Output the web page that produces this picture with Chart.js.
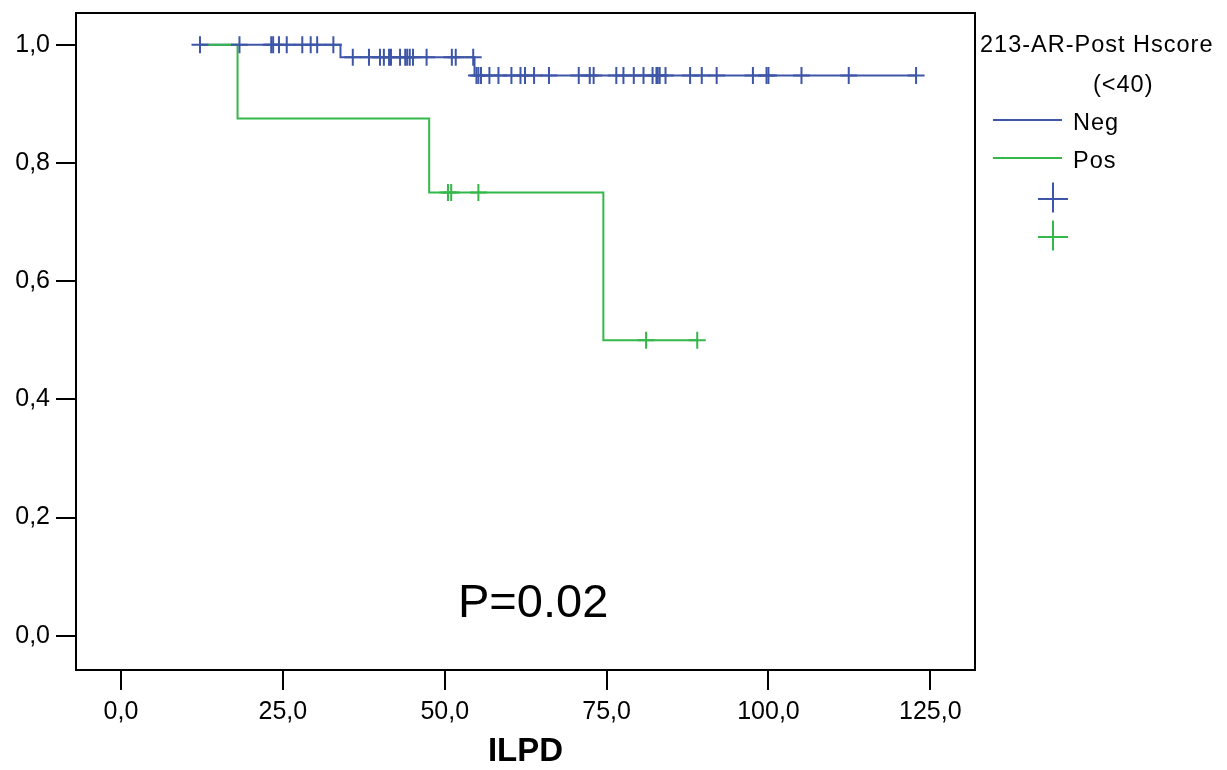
<!DOCTYPE html>
<html><head><meta charset="utf-8">
<script src="https://cdn.jsdelivr.net/npm/chart.js@4.4.1/dist/chart.umd.min.js"></script>
<style>html,body{margin:0;padding:0;background:#fff;}canvas{display:block;}</style>
</head><body>
<canvas id="c" width="1227" height="770"></canvas>
<script>
// ---- data ----
const groupNames = ['Neg', 'Pos'];
const legendTitle = ['213-AR-Post Hscore', '(<40)'];
const xAxisTitle = 'ILPD';
const pValueText = 'P=0.02';
const xTickValues = [0, 25, 50, 75, 100, 125];
const xTickLabels = ['0,0', '25,0', '50,0', '75,0', '100,0', '125,0'];
const yTickValues = [0, 0.2, 0.4, 0.6, 0.8, 1.0];
const yTickLabels = ['0,0', '0,2', '0,4', '0,6', '0,8', '1,0'];

const negStartTime = 12.2;
const negEventTimes = [33.9, 54.6];
const negEventSurvival = [0.979, 0.948];
const negCensorTimes = [12.2, 18.3, 23.2, 23.5, 24.4, 25.6, 28.0, 29.3, 30.3, 32.8,
  35.8, 38.3, 40.0, 40.6, 41.4, 41.7, 43.1, 43.9, 44.2, 44.6, 45.1, 47.2, 51.1, 51.7, 54.4,
  54.9, 55.2, 55.6, 56.9, 58.3, 60.3, 61.7, 62.4, 63.8, 66.1, 70.7, 72.4, 73.0, 76.5, 77.6,
  79.2, 80.7, 82.1, 82.7, 82.9, 83.2, 84.1, 87.9, 89.7, 92.0, 97.6, 99.7, 100.0, 105.1, 112.4, 122.8];

const posStartTime = 12.2;
const posEventTimes = [18.0, 47.6, 74.5];
const posEventSurvival = [0.875, 0.75, 0.5];
const posCensorTimes = [50.5, 51.0, 55.2, 81.1, 89.0];

// ---- helpers ----
const blue = '#3E56A8';
const green = '#34B84A';
function survivalAt(t, evT, evS) {
  let s = 1;
  for (let i = 0; i < evT.length; i++) if (evT[i] <= t) s = evS[i];
  return s;
}
function curve(start, evT, evS, cens) {
  const pts = [{x: start, y: 1}];
  evT.forEach((t, i) => pts.push({x: t, y: evS[i]}));
  const last = Math.max(...cens, ...evT);
  pts.push({x: last, y: survivalAt(last, evT, evS)});
  return pts;
}
function marks(cens, evT, evS) {
  return cens.map(t => ({x: t, y: survivalAt(t, evT, evS)}));
}

const FONT = "'Liberation Sans', Arial, sans-serif";
Chart.defaults.font.family = FONT;
Chart.defaults.color = '#000';

const framePlugin = {
  id: 'frame',
  afterDraw(chart) {
    const {ctx, chartArea: a} = chart;
    ctx.save();
    ctx.strokeStyle = '#000';
    ctx.lineWidth = 2;
    ctx.strokeRect(a.left, a.top, a.right - a.left, a.bottom - a.top);
    // P value annotation
    ctx.fillStyle = '#000';
    ctx.font = '47px ' + FONT;
    ctx.textAlign = 'left';
    ctx.textBaseline = 'alphabetic';
    ctx.fillText(pValueText, 458, 617);
    // legend
    ctx.font = '23.5px ' + FONT;
    try { ctx.letterSpacing = '1px'; } catch (e) {}
    ctx.fillText(legendTitle[0], 980, 52);
    ctx.fillText(legendTitle[1], 1093, 92);
    ctx.fillText(groupNames[0], 1073, 130);
    ctx.fillText(groupNames[1], 1073, 168);
    try { ctx.letterSpacing = '0px'; } catch (e) {}
    ctx.lineWidth = 2;
    ctx.strokeStyle = blue;
    ctx.beginPath(); ctx.moveTo(993, 120); ctx.lineTo(1062, 120); ctx.stroke();
    ctx.strokeStyle = green;
    ctx.beginPath(); ctx.moveTo(993, 158); ctx.lineTo(1062, 158); ctx.stroke();
    const cross = (cx, cy, col) => {
      ctx.strokeStyle = col;
      ctx.beginPath();
      ctx.moveTo(cx - 15, cy); ctx.lineTo(cx + 15, cy);
      ctx.moveTo(cx, cy - 16.5); ctx.lineTo(cx, cy + 13.5);
      ctx.stroke();
    };
    cross(1053, 199, blue);
    cross(1053, 237, green);
    ctx.restore();
  }
};

new Chart(document.getElementById('c'), {
  type: 'scatter',
  data: {
    datasets: [
      {label: groupNames[1] + ' censored', data: marks(posCensorTimes, posEventTimes, posEventSurvival),
        showLine: false, pointStyle: 'cross', pointRadius: 8.5, pointBorderWidth: 2,
        pointBorderColor: green, pointBackgroundColor: green},
      {label: groupNames[0] + ' censored', data: marks(negCensorTimes, negEventTimes, negEventSurvival),
        showLine: false, pointStyle: 'cross', pointRadius: 8.5, pointBorderWidth: 2,
        pointBorderColor: blue, pointBackgroundColor: blue},
      {label: groupNames[1], data: curve(posStartTime, posEventTimes, posEventSurvival, posCensorTimes),
        showLine: true, stepped: true, borderColor: green, borderWidth: 2, pointRadius: 0, fill: false},
      {label: groupNames[0], data: curve(negStartTime, negEventTimes, negEventSurvival, negCensorTimes),
        showLine: true, stepped: true, borderColor: blue, borderWidth: 2, pointRadius: 0, fill: false}
    ]
  },
  options: {
    responsive: false,
    animation: false,
    events: [],
    layout: {padding: {top: 13, right: 252, left: 0, bottom: 0}},
    plugins: {legend: {display: false}, tooltip: {enabled: false}},
    scales: {
      x: {
        type: 'linear', min: -6.95, max: 131.9,
        afterBuildTicks: s => { s.ticks = xTickValues.map(v => ({value: v})); },
        afterFit: s => { s.height = 100; s.paddingLeft = 0; s.paddingRight = 0; s.paddingTop = 0; s.paddingBottom = 0; },
        ticks: {font: {size: 25}, color: '#000', padding: 7, maxRotation: 0, autoSkip: false,
          callback: (v, i) => xTickLabels[i]},
        grid: {display: true, drawOnChartArea: false, drawTicks: true, tickLength: 20, color: '#000', lineWidth: 2},
        border: {display: false},
        title: {display: true, text: xAxisTitle, font: {size: 33, weight: 'bold', lineHeight: 1}, color: '#000',
          padding: {top: 0, bottom: 2}}
      },
      y: {
        type: 'linear', min: -0.058, max: 1.0537,
        afterBuildTicks: s => { s.ticks = yTickValues.map(v => ({value: v})); },
        afterFit: s => { s.width = 76; s.paddingLeft = 0; s.paddingRight = 0; s.paddingTop = 0; s.paddingBottom = 0; },
        ticks: {font: {size: 25}, color: '#000', padding: 6, autoSkip: false,
          callback: (v, i) => yTickLabels[i]},
        grid: {display: true, drawOnChartArea: false, drawTicks: true, tickLength: 20, color: '#000', lineWidth: 2},
        border: {display: false}
      }
    }
  },
  plugins: [framePlugin]
});
</script>
</body></html>
